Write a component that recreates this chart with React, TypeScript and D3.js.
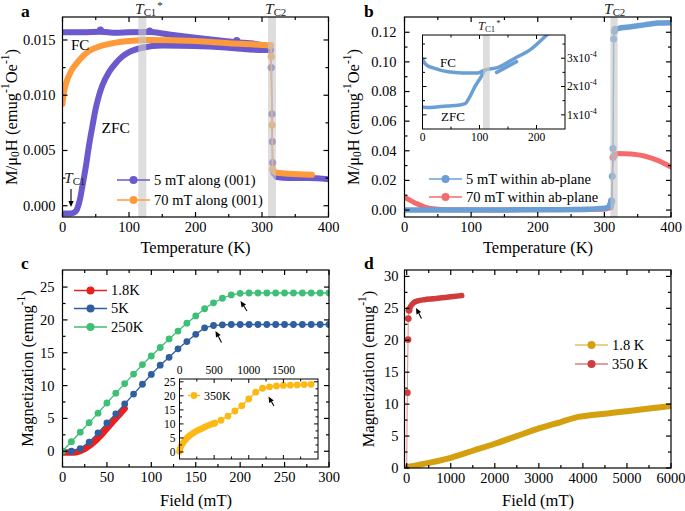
import React from "react";
import * as d3 from "d3";

type P = [number, number];
const FONT = "'Liberation Serif','Times New Roman',serif";

// ---------- Panel a data ----------
const aXTicks = [0, 100, 200, 300, 400];
const aYTicks = [0, 0.005, 0.01, 0.015];
const a5FC: P[] = [[0, 0.0157], [30, 0.0157], [57, 0.01575], [80, 0.01565], [100, 0.0157], [130, 0.01572], [160, 0.0155], [200, 0.0152], [230, 0.015], [260, 0.0148], [290, 0.01465], [312, 0.0144]];
const a5FCDots: P[] = [[57, 0.0159], [131, 0.0158], [262, 0.01495]];
const a5ZFC: P[] = [[0, -0.0007], [12, -0.0007], [18, -0.0006], [22, -0.0003], [26, 0.0005], [30, 0.0018], [35, 0.0035], [40, 0.0055], [45, 0.0072], [50, 0.0088], [55, 0.01], [60, 0.0109], [70, 0.0121], [80, 0.0129], [90, 0.0135], [100, 0.0139], [120, 0.0143], [150, 0.0145], [200, 0.01445], [250, 0.0143], [300, 0.0141], [312, 0.0141]];
const a5Trans: P[] = [[313, 0.0141], [314, 0.0125], [315, 0.0083], [315.5, 0.0058], [316, 0.0039], [318, 0.003]];
const a5High: P[] = [[318, 0.003], [322, 0.0026], [340, 0.0025], [370, 0.0025], [400, 0.0024]];
const a70: P[] = [[0, 0.0092], [1, 0.0098], [3, 0.0105], [6, 0.0112], [10, 0.0118], [15, 0.0124], [20, 0.0128], [30, 0.0135], [40, 0.014], [50, 0.0143], [75, 0.0147], [100, 0.0149], [130, 0.015], [200, 0.0149], [250, 0.0147], [300, 0.01455], [313, 0.0145]];
const a70Trans: P[] = [[313, 0.0145], [314, 0.0135], [315, 0.0073], [316, 0.0033]];
const a70High: P[] = [[316, 0.0033], [320, 0.003], [340, 0.0029], [375, 0.0028]];
const aBands: P[] = [[114, 126], [309, 321]];

// ---------- Panel b data ----------
const bYTicks = [0, 0.02, 0.04, 0.06, 0.08, 0.1, 0.12];
const b5Low: P[] = [[0, 0], [100, 0], [200, 0.0002], [280, 0.0006], [300, 0.0012], [306, 0.002], [309, 0.003]];
const b5Trans: P[] = [[309, 0.003], [310, 0.0045], [311, 0.0062], [312, 0.0228], [313, 0.0415], [314, 0.1155], [315, 0.1205], [316, 0.122]];
const b5High: P[] = [[316, 0.122], [320, 0.1225], [340, 0.1237], [360, 0.125], [380, 0.1262], [400, 0.1265]];
const b70Low: P[] = [[0, 0.0085], [5, 0.0075], [10, 0.0062], [15, 0.005], [20, 0.004], [25, 0.003], [30, 0.002], [40, 0.001], [55, 0.0004], [80, 0.0002], [150, 0.0001], [300, 0.0005], [309, 0.002]];
const b70Trans: P[] = [[309, 0.002], [311, 0.006], [313, 0.0355], [315, 0.037]];
const b70High: P[] = [[315, 0.037], [320, 0.0382], [340, 0.0378], [360, 0.0365], [380, 0.0335], [400, 0.029]];
const bBands: P[] = [[309, 320]];
// inset
const bInsXTicks = [0, 100, 200];
const bInsYTicks = [1, 2, 3];
const bInsFC: P[] = [[0, 2.97e-4], [3, 2.85e-4], [8, 2.75e-4], [20, 2.65e-4], [45, 2.52e-4], [70, 2.48e-4], [97, 2.48e-4], [109, 2.58e-4], [133, 2.68e-4], [162, 3.0e-4], [191, 3.33e-4], [218, 3.82e-4], [225, 3.95e-4]];
const bInsZFC: P[] = [[0, 1.28e-4], [10, 1.26e-4], [25, 1.28e-4], [45, 1.31e-4], [65, 1.35e-4], [75, 1.4e-4], [82, 1.6e-4], [92, 2.0e-4], [103, 2.35e-4], [108, 2.55e-4]];
const bInsZFC2: P[] = [[130, 2.5e-4], [145, 2.66e-4], [165, 2.88e-4]];
const bInsBand: P[] = [[106, 118]];

// ---------- Panel c data ----------
const cXTicks = [0, 50, 100, 150, 200, 250, 300];
const cYTicks = [0, 5, 10, 15, 20, 25];
const cField = [0, 10, 20, 30, 40, 50, 60, 70, 80, 90, 100, 110, 120, 130, 140, 150, 160, 170, 180, 190, 200, 210, 220, 230, 240, 250, 260, 270, 280, 290, 300];
const c250K = [0, 1.45, 2.9, 4.35, 5.8, 7.35, 8.85, 10.3, 11.75, 13.2, 14.5, 15.8, 17.1, 18.3, 19.5, 20.6, 21.7, 22.6, 23.3, 23.8, 24.05, 24.1, 24.1, 24.1, 24.1, 24.1, 24.1, 24.1, 24.1, 24.1, 24.1];
const c5K = [0, 0, 0.4, 1.4, 2.8, 4.3, 5.7, 7.2, 8.7, 10.2, 11.7, 13.1, 14.3, 15.6, 16.7, 17.8, 18.8, 19.15, 19.25, 19.3, 19.3, 19.3, 19.3, 19.3, 19.3, 19.3, 19.3, 19.3, 19.3, 19.3, 19.3];
const c18K: P[] = [[0, -0.2], [10, -0.2], [15, -0.15], [20, 0.05], [25, 0.35], [30, 0.8], [35, 1.35], [40, 2.0], [45, 2.7], [50, 3.5], [55, 4.25], [60, 5.0], [65, 5.75], [70, 6.5]];
// inset
const cInsXTicks = [0, 500, 1000, 1500];
const cInsYTicks = [0, 5, 10, 15, 20, 25];
const cIns350Dense: P[] = [[0, 0.2], [10, 1.2], [25, 2.2], [50, 3.2], [80, 4.2], [120, 5.3], [160, 6.1], [200, 6.8], [250, 7.5], [300, 8.1], [350, 8.7], [400, 9.3], [450, 9.8], [510, 10.3]];
const cIns350Sparse: P[] = [[510, 10.3], [600, 11.3], [700, 12.8], [800, 14.6], [900, 16.5], [1000, 18.9], [1100, 21.3], [1200, 22.7], [1300, 23.2], [1400, 23.5], [1500, 23.7], [1600, 23.8], [1700, 23.9], [1800, 24.0], [1900, 24.1]];

// ---------- Panel d data ----------
const dXTicks = [0, 1000, 2000, 3000, 4000, 5000, 6000];
const dYTicks = [0, 5, 10, 15, 20, 25, 30];
const d18K: P[] = [[0, 0.15], [500, 0.8], [1000, 1.6], [1500, 2.7], [2000, 3.8], [2500, 5.0], [3000, 6.2], [3500, 7.2], [3900, 8.0], [4200, 8.3], [4500, 8.5], [5000, 8.9], [5500, 9.3], [6000, 9.7]];
const d350Sparse: P[] = [[0, 0], [14, 11.8], [30, 20.1], [36, 23.4], [52, 24.7]];
const d350Dense: P[] = [[52, 24.7], [80, 25.2], [120, 25.6], [160, 25.9], [250, 26.15], [400, 26.35], [600, 26.5], [800, 26.65], [1000, 26.8], [1250, 27.0]];

// ---------- colours ----------
const PURPLE = "#6a5acd";
const ORANGE = "#ff9a3a";
const BLUE_B = "#6a9fd6";
const RED_B = "#f56b6b";
const RED_C = "#e8201e";
const BLUE_C = "#2f5f9e";
const GREEN_C = "#3dbf75";
const YEL_C = "#fdb913";
const GOLD_D = "#d4a010";
const RED_D = "#d03c3c";

type Lin = d3.ScaleLinear<number, number>;

function path(x: Lin, y: Lin, data: P[], curve: d3.CurveFactory = d3.curveMonotoneX) {
  return d3.line<P>().x(d => x(d[0])).y(d => y(d[1])).curve(curve)(data) ?? "";
}

function minors(maj: number[], step: number) {
  const out: number[] = [];
  for (let i = 0; i < maj.length - 1; i++) out.push(maj[i] + step);
  return out;
}

interface FrameProps {
  x: Lin; y: Lin;
  xMaj: number[]; xMin: number[]; yMaj: number[]; yMin: number[];
  xFmt?: (v: number) => string; yFmt?: (v: number) => React.ReactNode;
  fs: number; xLab: "bottom" | "top"; yLab: "left" | "right";
  tl: number; tm: number; xGap: number; yGap: number; sw?: number;
}

function Frame(p: FrameProps) {
  const [x0, x1] = p.x.range();
  const [y0, y1] = p.y.range();
  const els: React.ReactNode[] = [];
  const sw = p.sw ?? 1.2;
  els.push(<rect key="r" x={x0} y={y1} width={x1 - x0} height={y0 - y1} fill="none" stroke="#000" strokeWidth={sw} />);
  const tick = (v: number, len: number, k: string) => {
    const px = p.x(v);
    return [
      <line key={k + "b"} x1={px} x2={px} y1={y0} y2={y0 - len} stroke="#000" strokeWidth={sw} />,
      <line key={k + "t"} x1={px} x2={px} y1={y1} y2={y1 + len} stroke="#000" strokeWidth={sw} />,
    ];
  };
  const ytick = (v: number, len: number, k: string) => {
    const py = p.y(v);
    return [
      <line key={k + "l"} x1={x0} x2={x0 + len} y1={py} y2={py} stroke="#000" strokeWidth={sw} />,
      <line key={k + "r"} x1={x1} x2={x1 - len} y1={py} y2={py} stroke="#000" strokeWidth={sw} />,
    ];
  };
  p.xMaj.forEach((v, i) => els.push(...tick(v, p.tl, "xM" + i)));
  p.xMin.forEach((v, i) => els.push(...tick(v, p.tm, "xm" + i)));
  p.yMaj.forEach((v, i) => els.push(...ytick(v, p.tl, "yM" + i)));
  p.yMin.forEach((v, i) => els.push(...ytick(v, p.tm, "ym" + i)));
  const xf = p.xFmt ?? ((v: number) => String(v));
  const yf = p.yFmt ?? ((v: number) => String(v));
  p.xMaj.forEach((v, i) =>
    els.push(
      <text key={"xl" + i} x={p.x(v)} y={p.xLab === "bottom" ? y0 + p.xGap : y1 - p.xGap} textAnchor="middle" fontSize={p.fs} fontFamily={FONT}>
        {xf(v)}
      </text>
    )
  );
  p.yMaj.forEach((v, i) =>
    els.push(
      <text key={"yl" + i} x={p.yLab === "left" ? x0 - p.yGap : x1 + p.yGap} y={p.y(v) + p.fs * 0.34} textAnchor={p.yLab === "left" ? "end" : "start"} fontSize={p.fs} fontFamily={FONT}>
        {yf(v)}
      </text>
    )
  );
  return <g>{els}</g>;
}

function Arrow({ x1, y1, x2, y2, w = 1.1 }: { x1: number; y1: number; x2: number; y2: number; w?: number }) {
  const ang = Math.atan2(y2 - y1, x2 - x1);
  const L = 6, W = 2.6;
  const bx = x2 - L * Math.cos(ang), by = y2 - L * Math.sin(ang);
  const nx = -Math.sin(ang) * W, ny = Math.cos(ang) * W;
  return (
    <g>
      <line x1={x1} y1={y1} x2={bx} y2={by} stroke="#000" strokeWidth={w} />
      <path d={`M${x2},${y2}L${bx + nx},${by + ny}L${bx - nx},${by - ny}Z`} fill="#000" />
    </g>
  );
}

function LegendRow({ x, y, color, label, fs, lw = 1.3, r = 4, len = 33 }: { x: number; y: number; color: string; label: string; fs: number; lw?: number; r?: number; len?: number }) {
  return (
    <g>
      <line x1={x} x2={x + len} y1={y} y2={y} stroke={color} strokeWidth={lw} />
      <circle cx={x + len / 2} cy={y} r={r} fill={color} />
      <text x={x + len + 4} y={y + fs * 0.34} fontSize={fs} fontFamily={FONT}>{label}</text>
    </g>
  );
}

function TLabel({ x, y, sub, star, fs = 15.5 }: { x: number; y: number; sub: string; star?: boolean; fs?: number }) {
  return (
    <text x={x} y={y} fontFamily={FONT} fontSize={fs} fill="#222">
      <tspan fontStyle="italic">T</tspan>
      <tspan fontSize={fs * 0.7} dy={fs * 0.15}>{sub}</tspan>
      {star ? <tspan fontSize={fs * 0.7} dx={1} dy={-fs * 0.45}>*</tspan> : null}
    </text>
  );
}

export default function App() {
  // scales
  const xA = d3.scaleLinear().domain([0, 400]).range([62.5, 328.5]);
  const yA = d3.scaleLinear().domain([-0.00102, 0.01708]).range([217, 17]);
  const xB = d3.scaleLinear().domain([0, 400]).range([404.5, 671]);
  const yB = d3.scaleLinear().domain([-0.0047, 0.1303]).range([217, 17]);
  const xBi = d3.scaleLinear().domain([0, 250]).range([422.5, 565]);
  const yBi = d3.scaleLinear().domain([0.5e-4, 3.82e-4]).range([129, 35]);
  const xC = d3.scaleLinear().domain([0, 300]).range([62.5, 329]);
  const yC = d3.scaleLinear().domain([-2.4, 27.6]).range([467, 270]);
  const xCi = d3.scaleLinear().domain([0, 2000]).range([179.5, 318]);
  const yCi = d3.scaleLinear().domain([-2.5, 26]).range([459, 379]);
  const xD = d3.scaleLinear().domain([-50, 6000]).range([404.5, 671]);
  const yD = d3.scaleLinear().domain([0, 31]).range([468, 270]);

  const TF = 14.5;
  const c250: P[] = cField.map((f, i) => [f, c250K[i]]);
  const c5: P[] = cField.map((f, i) => [f, c5K[i]]);

  const band = (x: Lin, y: Lin, b: P, k: string) => (
    <rect key={k} x={x(b[0])} width={x(b[1]) - x(b[0])} y={y.range()[1]} height={y.range()[0] - y.range()[1]} fill="#c8c8c8" opacity={0.62} />
  );

  const yTitle = (cx: number, cy: number, parts: React.ReactNode) => (
    <text transform={`translate(${cx},${cy}) rotate(-90)`} textAnchor="middle" fontSize={16.5} fontFamily={FONT} dominantBaseline="central">
      {parts}
    </text>
  );

  return (
    <svg width={685} height={511} style={{ position: "absolute", left: 0, top: 0, background: "#fff" }}>
      <defs>
        <clipPath id="ca"><rect x={62.5} y={17} width={266} height={200} /></clipPath>
        <clipPath id="cb"><rect x={404.5} y={17} width={266.5} height={200} /></clipPath>
        <clipPath id="cbi"><rect x={422.5} y={35} width={142.5} height={94} /></clipPath>
        <clipPath id="cc"><rect x={62.5} y={270} width={266.5} height={197} /></clipPath>
        <clipPath id="cd"><rect x={404.5} y={270} width={266.5} height={198} /></clipPath>
      </defs>
      <rect x={0} y={0} width={685} height={511} fill="#fff" />

      {/* ================= Panel a ================= */}
      <g clipPath="url(#ca)">
        <path d={path(xA, yA, a5FC)} fill="none" stroke={PURPLE} strokeWidth={6} strokeLinecap="round" />
        {a5FCDots.map((d, i) => <circle key={i} cx={xA(d[0])} cy={yA(d[1])} r={3.6} fill={PURPLE} />)}
        <path d={path(xA, yA, a5ZFC)} fill="none" stroke={PURPLE} strokeWidth={6} strokeLinecap="round" />
        <path d={path(xA, yA, a5Trans, d3.curveLinear)} fill="none" stroke={PURPLE} strokeWidth={1.5} />
        {a5Trans.map((d, i) => <circle key={i} cx={xA(d[0])} cy={yA(d[1])} r={3.6} fill={PURPLE} />)}
        <path d={path(xA, yA, a5High)} fill="none" stroke={PURPLE} strokeWidth={6} strokeLinecap="round" />
        <path d={path(xA, yA, a70)} fill="none" stroke={ORANGE} strokeWidth={6} strokeLinecap="round" />
        <path d={path(xA, yA, a70Trans, d3.curveLinear)} fill="none" stroke={ORANGE} strokeWidth={1.5} />
        {a70Trans.map((d, i) => <circle key={i} cx={xA(d[0])} cy={yA(d[1])} r={3.6} fill={ORANGE} />)}
        <path d={path(xA, yA, a70High)} fill="none" stroke={ORANGE} strokeWidth={6} strokeLinecap="round" />
        {aBands.map((b, i) => band(xA, yA, b, "ab" + i))}
      </g>
      <Frame x={xA} y={yA} xMaj={aXTicks} xMin={minors(aXTicks, 50)} yMaj={aYTicks} yMin={[0.0025, 0.0075, 0.0125]}
        yFmt={v => d3.format(".3f")(v)} fs={TF} xLab="bottom" yLab="left" tl={5} tm={3} xGap={15} yGap={7} />
      <text x={71} y={50} fontSize={15} fontFamily={FONT}>FC</text>
      <text x={101.5} y={133} fontSize={15.5} fontFamily={FONT}>ZFC</text>
      <TLabel x={64} y={183} sub="C1" />
      <Arrow x1={71} y1={189} x2={71} y2={207} />
      <TLabel x={135} y={14} sub="C1" star />
      <TLabel x={265} y={14} sub="C2" />
      <LegendRow x={117} y={180} color={PURPLE} label="5 mT along (001)" fs={14.5} />
      <LegendRow x={117} y={200} color={ORANGE} label="70 mT along (001)" fs={14.5} />
      {yTitle(11, 117, <>M/μ<tspan fontSize={11.5} dy={4}>0</tspan><tspan dy={-4}>H (emug</tspan><tspan fontSize={11.5} dy={-6}>-1</tspan><tspan dy={6}>Oe</tspan><tspan fontSize={11.5} dy={-6}>-1</tspan><tspan dy={6}>)</tspan></>)}
      <text x={195.5} y={253} textAnchor="middle" fontSize={16.5} fontFamily={FONT}>Temperature (K)</text>
      <text x={21} y={16.5} fontSize={17.5} fontWeight="bold" fontFamily={FONT}>a</text>

      {/* ================= Panel b ================= */}
      <g clipPath="url(#cb)">
        <path d={path(xB, yB, b70Low)} fill="none" stroke={RED_B} strokeWidth={5} strokeLinecap="round" />
        <path d={path(xB, yB, b70Trans, d3.curveLinear)} fill="none" stroke={RED_B} strokeWidth={1.5} />
        {b70Trans.map((d, i) => <circle key={i} cx={xB(d[0])} cy={yB(d[1])} r={3.5} fill={RED_B} />)}
        <path d={path(xB, yB, b70High)} fill="none" stroke={RED_B} strokeWidth={5} strokeLinecap="round" />
        <path d={path(xB, yB, b5Low)} fill="none" stroke={BLUE_B} strokeWidth={5.5} strokeLinecap="round" />
        <path d={path(xB, yB, b5Trans, d3.curveLinear)} fill="none" stroke={BLUE_B} strokeWidth={1.5} />
        {b5Trans.map((d, i) => <circle key={i} cx={xB(d[0])} cy={yB(d[1])} r={3.5} fill={BLUE_B} />)}
        <path d={path(xB, yB, b5High)} fill="none" stroke={BLUE_B} strokeWidth={5.5} strokeLinecap="round" />
        {bBands.map((b, i) => band(xB, yB, b, "bb" + i))}
      </g>
      <Frame x={xB} y={yB} xMaj={aXTicks} xMin={minors(aXTicks, 50)} yMaj={bYTicks} yMin={minors(bYTicks, 0.01)}
        yFmt={v => d3.format(".2f")(v)} fs={TF} xLab="bottom" yLab="left" tl={5} tm={3} xGap={15} yGap={8} />
      <TLabel x={604} y={14} sub="C2" />
      <LegendRow x={429} y={179} color={BLUE_B} label="5 mT within ab-plane" fs={14.5} />
      <LegendRow x={429} y={197} color={RED_B} label="70 mT within ab-plane" fs={14.5} />
      {yTitle(353, 117, <>M/μ<tspan fontSize={11.5} dy={4}>0</tspan><tspan dy={-4}>H (emug</tspan><tspan fontSize={11.5} dy={-6}>-1</tspan><tspan dy={6}>Oe</tspan><tspan fontSize={11.5} dy={-6}>-1</tspan><tspan dy={6}>)</tspan></>)}
      <text x={538} y={253} textAnchor="middle" fontSize={16.5} fontFamily={FONT}>Temperature (K)</text>
      <text x={364} y={16.5} fontSize={17.5} fontWeight="bold" fontFamily={FONT}>b</text>

      {/* inset b */}
      <rect x={422.5} y={35} width={142.5} height={94} fill="#fff" />
      <g clipPath="url(#cbi)">
        <path d={path(xBi, yBi, bInsFC)} fill="none" stroke={BLUE_B} strokeWidth={3.5} strokeLinecap="round" />
        <path d={path(xBi, yBi, bInsZFC)} fill="none" stroke={BLUE_B} strokeWidth={3.5} strokeLinecap="round" />
        <path d={path(xBi, yBi, bInsZFC2)} fill="none" stroke={BLUE_B} strokeWidth={3.5} strokeLinecap="round" />
        {bInsBand.map((b, i) => band(xBi, yBi, b, "bib" + i))}
      </g>
      <Frame x={xBi} y={yBi} xMaj={bInsXTicks} xMin={[50, 150]} yMaj={bInsYTicks.map(v => v * 1e-4)} yMin={[1.5e-4, 2.5e-4, 3.5e-4]}
        yFmt={v => <><tspan>{Math.round(v * 1e4)}x10</tspan><tspan fontSize={8} dy={-5}>-4</tspan></>}
        fs={11.5} xLab="bottom" yLab="right" tl={4} tm={2.5} xGap={12} yGap={2} sw={1} />
      <text x={440} y={66.5} fontSize={13} fontFamily={FONT}>FC</text>
      <text x={441} y={120.5} fontSize={13} fontFamily={FONT}>ZFC</text>
      <TLabel x={478} y={30} sub="C1" star fs={12.5} />

      {/* ================= Panel c ================= */}
      <g clipPath="url(#cc)">
        <path d={path(xC, yC, c18K)} fill="none" stroke={RED_C} strokeWidth={6.5} strokeLinecap="round" />
        <path d={path(xC, yC, c5, d3.curveLinear)} fill="none" stroke={BLUE_C} strokeWidth={1.3} />
        {c5.map((d, i) => <circle key={i} cx={xC(d[0])} cy={yC(d[1])} r={3.4} fill={BLUE_C} />)}
        <path d={path(xC, yC, c250, d3.curveLinear)} fill="none" stroke={GREEN_C} strokeWidth={1.3} />
        {c250.map((d, i) => <circle key={i} cx={xC(d[0])} cy={yC(d[1])} r={3.4} fill={GREEN_C} />)}
      </g>
      <Frame x={xC} y={yC} xMaj={cXTicks} xMin={minors(cXTicks, 25)} yMaj={cYTicks} yMin={minors(cYTicks, 2.5)}
        fs={TF} xLab="bottom" yLab="left" tl={5} tm={3} xGap={15} yGap={8} />
      <LegendRow x={74} y={290.5} color={RED_C} label="1.8K" fs={14.5} />
      <LegendRow x={74} y={308.5} color={BLUE_C} label="5K" fs={14.5} />
      <LegendRow x={74} y={327} color={GREEN_C} label="250K" fs={14.5} />
      <Arrow x1={247} y1={311} x2={240.5} y2={301} />
      <Arrow x1={221.5} y1={342.5} x2={215.5} y2={331} />
      {yTitle(27, 368.5, <>Magnetization (emug<tspan fontSize={11.5} dy={-6}>-1</tspan><tspan dy={6}>)</tspan></>)}
      <text x={196} y={506} textAnchor="middle" fontSize={16.5} fontFamily={FONT}>Field (mT)</text>
      <text x={21} y={269} fontSize={17.5} fontWeight="bold" fontFamily={FONT}>c</text>

      {/* inset c */}
      <rect x={179.5} y={379} width={138.5} height={80} fill="#fff" />
      <g>
        <path d={path(xCi, yCi, cIns350Sparse, d3.curveLinear)} fill="none" stroke={YEL_C} strokeWidth={1.3} />
        {cIns350Sparse.map((d, i) => <circle key={i} cx={xCi(d[0])} cy={yCi(d[1])} r={3.4} fill={YEL_C} />)}
        <path d={path(xCi, yCi, cIns350Dense)} fill="none" stroke={YEL_C} strokeWidth={6.5} strokeLinecap="round" />
      </g>
      <Frame x={xCi} y={yCi} xMaj={cInsXTicks} xMin={[250, 750, 1250, 1750]} yMaj={cInsYTicks} yMin={minors(cInsYTicks, 2.5)}
        fs={11.5} xLab="top" yLab="left" tl={4} tm={2.5} xGap={5} yGap={4} sw={1} />
      <LegendRow x={188} y={395.5} color={YEL_C} label="350K" fs={12} len={12} r={3.4} />
      <Arrow x1={274} y1={406} x2={268.5} y2={396.5} />

      {/* ================= Panel d ================= */}
      <g clipPath="url(#cd)">
        <path d={path(xD, yD, d18K)} fill="none" stroke={GOLD_D} strokeWidth={6} strokeLinecap="round" />
        <path d={path(xD, yD, d350Sparse, d3.curveLinear)} fill="none" stroke={RED_D} strokeWidth={1} opacity={0.6} />
        {d350Sparse.slice(1).map((d, i) => <circle key={i} cx={xD(d[0])} cy={yD(d[1])} r={3.4} fill={RED_D} />)}
        <path d={path(xD, yD, d350Dense)} fill="none" stroke={RED_D} strokeWidth={5.5} strokeLinecap="round" />
      </g>
      <Frame x={xD} y={yD} xMaj={dXTicks} xMin={minors(dXTicks, 500)} yMaj={dYTicks} yMin={minors(dYTicks, 2.5)}
        fs={TF} xLab="bottom" yLab="left" tl={5} tm={3} xGap={15} yGap={6} />
      <LegendRow x={575} y={345} color={GOLD_D} label="1.8 K" fs={14.5} lw={1} />
      <LegendRow x={575} y={364} color={RED_D} label="350 K" fs={14.5} lw={1} />
      <Arrow x1={421.5} y1={318.5} x2={416} y2={308} />
      {yTitle(368, 369, <>Magnetization (emug<tspan fontSize={11.5} dy={-6}>-1</tspan><tspan dy={6}>)</tspan></>)}
      <text x={538} y={506} textAnchor="middle" fontSize={16.5} fontFamily={FONT}>Field (mT)</text>
      <text x={364} y={269} fontSize={17.5} fontWeight="bold" fontFamily={FONT}>d</text>
    </svg>
  );
}
